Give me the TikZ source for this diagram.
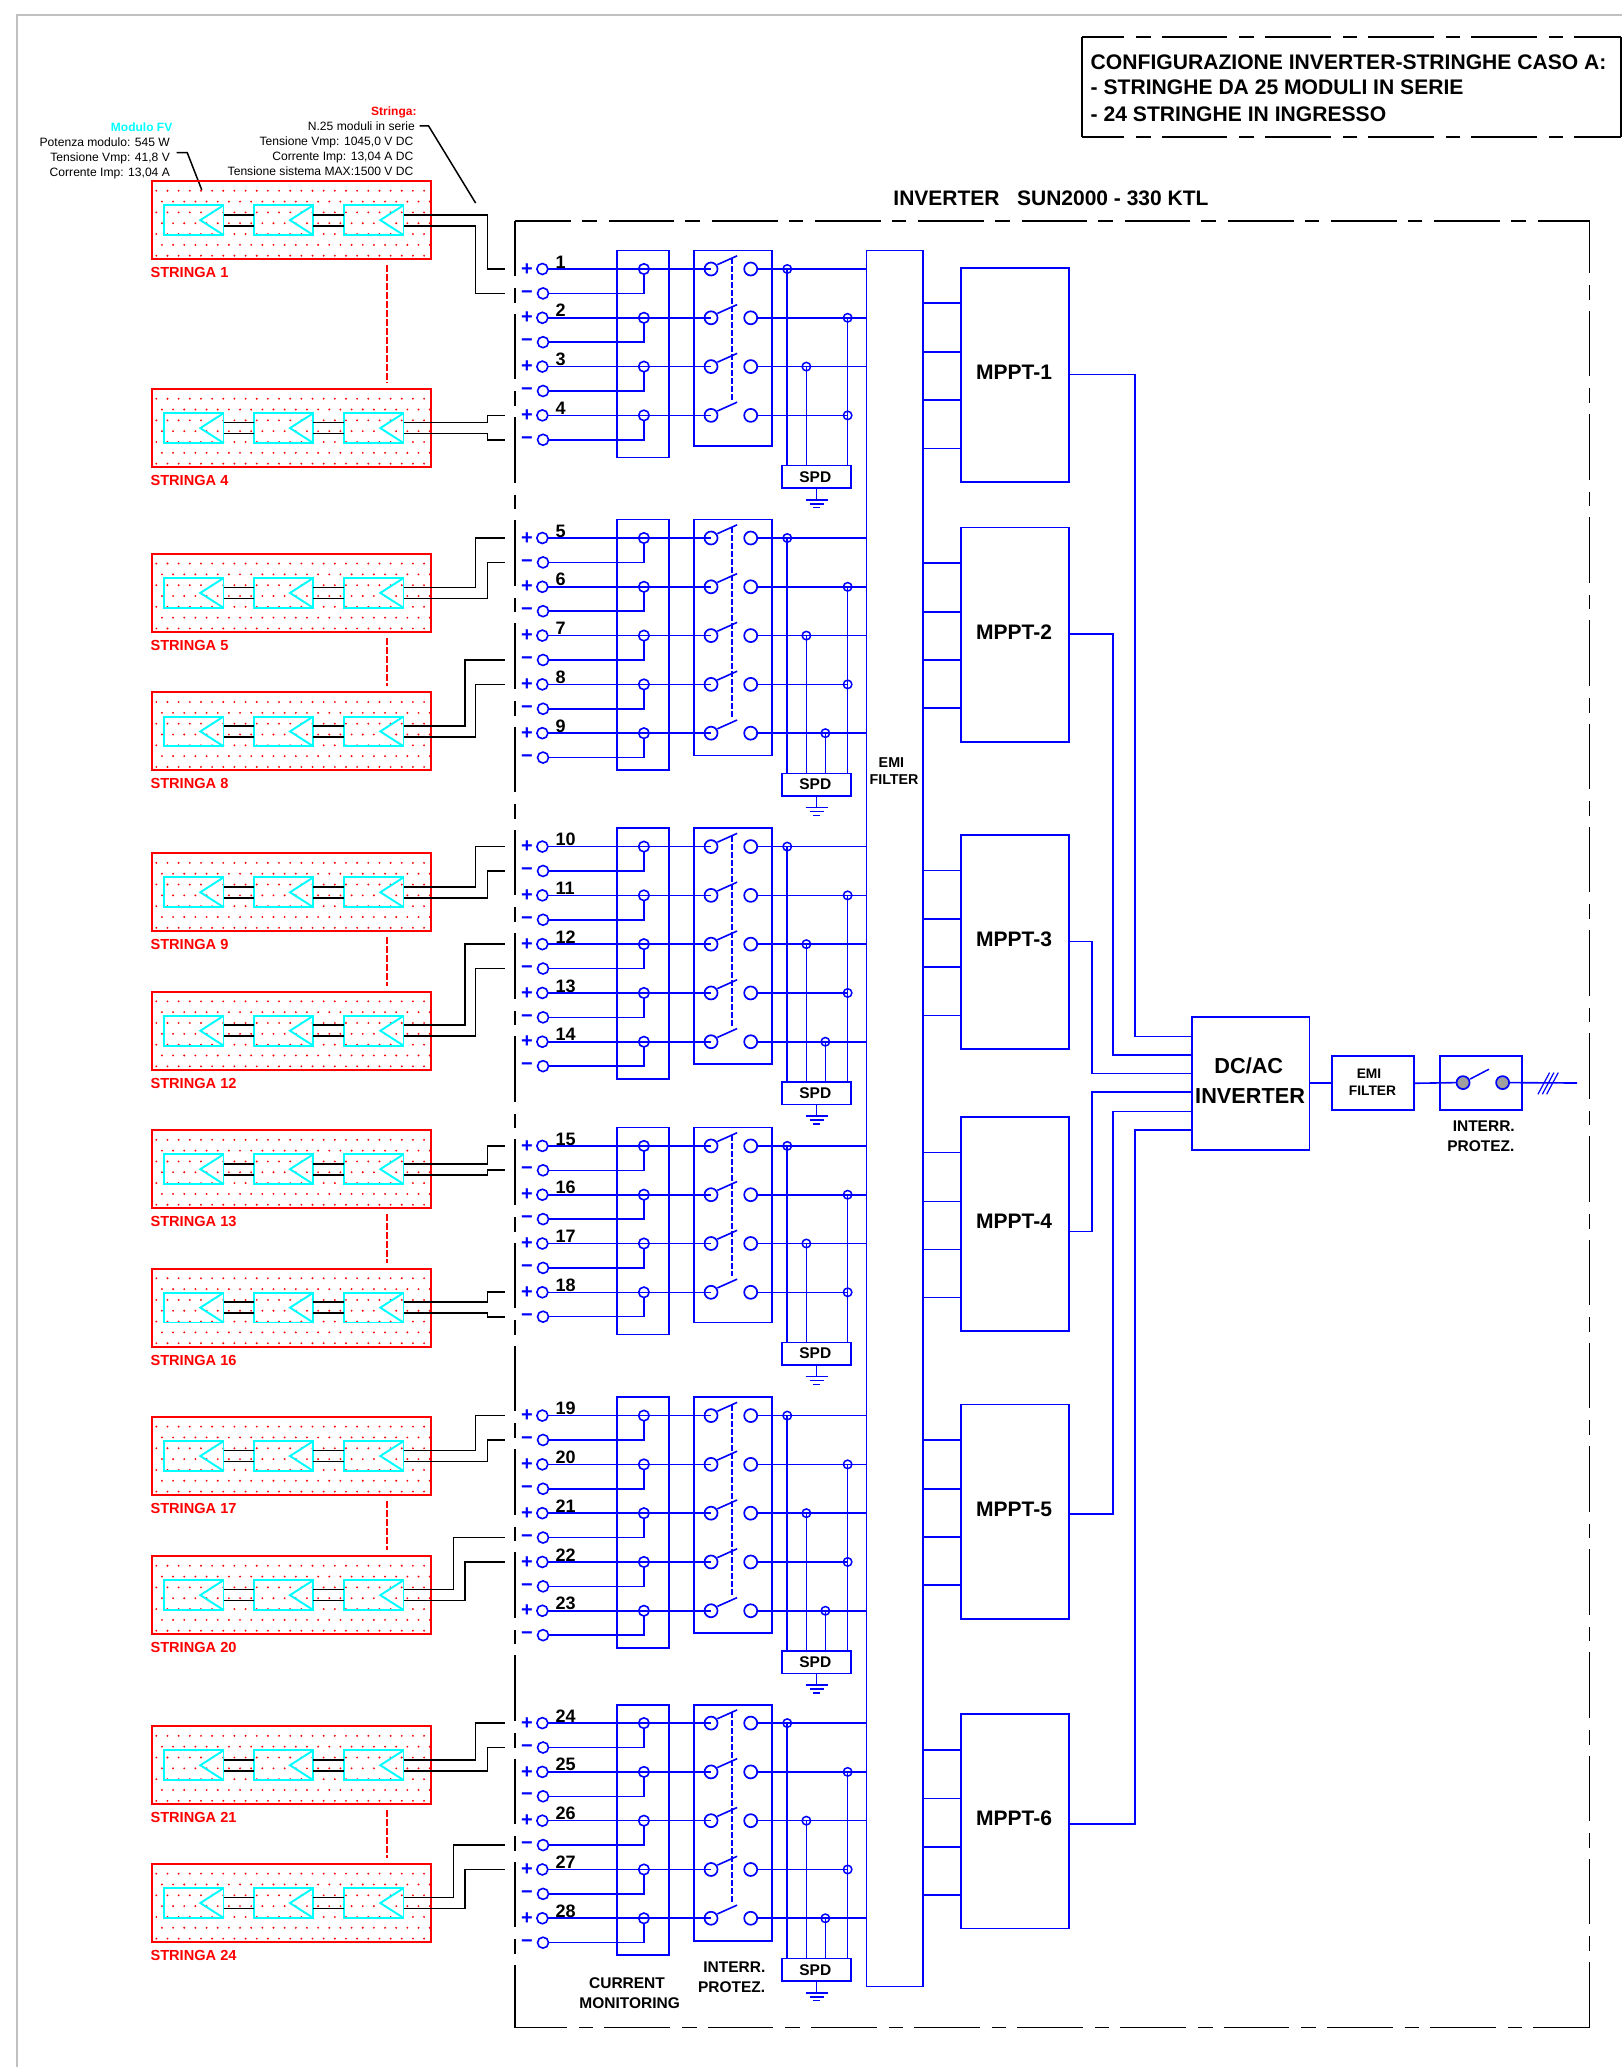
\documentclass[tikz,border=0pt]{standalone}
\usepackage{fontspec}
\setmainfont{Liberation Sans}
\definecolor{wblue}{RGB}{0,0,255}
\definecolor{wred}{RGB}{255,0,0}
\definecolor{wcyan}{RGB}{0,255,255}
\definecolor{wgray}{RGB}{192,192,192}
\tikzset{
  wire/.style={draw=wblue,line width=1.6pt,line join=miter},
  bk/.style={draw=black,line width=1.7pt},
  leader/.style={draw=black,line width=1.5pt},
  box/.style={draw=wblue,line width=1.7pt,inner sep=0pt,outer sep=0pt,rectangle,align=center},
  rbox/.style={draw=wred,line width=2pt,inner sep=0pt,outer sep=0pt,rectangle},
  cbox/.style={draw=wcyan,line width=1.9pt,inner sep=0pt,outer sep=0pt,rectangle},
  term/.style={circle,draw=wblue,line width=1.6pt,minimum size=11pt,inner sep=0pt,outer sep=0pt},
  cmc/.style={circle,draw=wblue,line width=1.6pt,minimum size=10.5pt,inner sep=0pt,outer sep=0pt},
  swc/.style={circle,draw=wblue,line width=1.7pt,minimum size=13pt,inner sep=0pt,outer sep=0pt},
  tapc/.style={circle,draw=wblue,line width=1.5pt,minimum size=8.5pt,inner sep=0pt,outer sep=0pt},
  gryc/.style={circle,draw=wblue,fill=gray!75,line width=1.7pt,minimum size=13pt,inner sep=0pt,outer sep=0pt},
  sgn/.style={font=\fontsize{20}{20}\selectfont\bfseries,text=wblue,inner sep=0pt},
  tb/.style={font=\fontsize{#1}{#1}\selectfont\bfseries,inner sep=0pt,anchor=base},
  tn/.style={font=\fontsize{12.1}{12.1}\selectfont,inner sep=0pt,anchor=base east},
  fr/.style={draw=black,line width=1.8pt,dash pattern=on 65.7pt off 12pt on 14.5pt off 11pt,dash phase=#1pt},
  reddash/.style={draw=wred,line width=1.4pt,dash pattern=on 7pt off 2pt},
}
\newcommand{\bx}[7][]{\node[box,minimum width={((#4)-(#2))*1.3187pt},minimum height={((#5)-(#3))*1.3187pt},#1] (#6) at ({((#2)+(#4))/2},{((#3)+(#5))/2}) {#7};}
% group of inputs: id, top, rows, first number
\newcommand{\grp}[4]{%
  \pgfmathsetmacro\spdoff{#3==4?163:192.5}%
  \pgfmathsetmacro\cmh{#3==4?157:190}%
  \pgfmathsetmacro\swh{#3==4?148:179}%
  \bx{468}{#2}{507.3}{#2+\cmh}{#1cm}{}
  \bx{526.3}{#2}{585.2}{#2+\swh}{#1sw}{}
  \bx[tb=15.5,anchor=center]{593.2}{#2+\spdoff}{645.3}{#2+\spdoff+17}{#1spd}{\hspace*{-2.5pt}SPD}
  \draw[wire] (#1spd.south) -- ++(0,9) coordinate (#1g);
  \draw[wire] ([xshift=-11pt]#1g) -- ([xshift=11pt]#1g);
  \draw[wire] ([shift={(-5.3,3)}]#1g) -- ([shift={(5.3,3)}]#1g);
  \draw[wire] ([shift={(-2.8,6)}]#1g) -- ([shift={(2.8,6)}]#1g);
  \coordinate (#1la) at (555,#2+5.7);
  \coordinate (#1lb) at (555,#2+14+37*#3-37-12);
  \draw[wblue,line width=1.4pt,dash pattern=on 6pt off 2pt] (#1la) -- (#1lb);
  \foreach \i in {1,...,#3}{%
    \pgfmathsetmacro\yp{#2+14+37*(\i-1)}%
    \pgfmathsetmacro\ym{\yp+18.5}%
    \pgfmathtruncatemacro\nn{#4+\i-1}%
    \pgfmathsetmacro\tx{{597,642.8,611.5,642.8,625.9}[\i-1]}%
    \node[sgn] (#1sp\i) at (399.6,\yp+0.2) {+};
    \node[sgn] (#1sm\i) at (399.6,\ym+0.6) {−};
    \node[term] (#1tp\i) at (411.3,\yp) {};
    \node[term] (#1tm\i) at (411.8,\ym) {};
    \coordinate (#1lp\i) at (383,\yp);
    \coordinate (#1lm\i) at (383,\ym);
    \node[tb=18,anchor=base west] (#1n\i) at (421.2,\yp-0.7) {\nn};
    \node[cmc] (#1c\i) at (488.3,\yp) {};
    \node[swc] (#1sl\i) at (539.2,\yp) {};
    \node[swc] (#1sr\i) at (569.3,\yp) {};
    \node[tapc] (#1tap\i) at (\tx,\yp) {};
    \coordinate (#1e\i) at (657,\yp);
    \draw[wire] (#1tp\i.east) -- (#1sl\i.center);
    \draw[wire] (#1tm\i.east) -| (#1c\i.south);
    \draw[wire] ([shift={(4.8,-3.3)}]#1sl\i.center) -- ([shift={(19.8,-10)}]#1sl\i.center);
    \ifnum\i=4
      \draw[wire] (#1sr\i.east) -- (#1tap\i.center);
    \else
      \draw[wire] (#1sr\i.east) -- (#1e\i);
    \fi
    \draw[wire] (#1tap\i.center) -- (#1tap\i.center |- #1spd.north);
  }%
}
% string box: id, top, label
\newcommand{\stringa}[3]{%
  \bx[rbox]{115}{#2}{327}{#2+59.1}{#1}{}
  \fill[wred] foreach \j in {0,...,6}{ foreach \k in {0,...,24}{
     ({115+3.56+(mod(\j,2)*4.25)+8.46*\k},{#2+7.36+8.21*\j}) circle[radius=1.05pt] } };
  \bx[cbox]{124.6}{#2+18.4}{169.5}{#2+40.9}{#1a}{}
  \bx[cbox]{192.6}{#2+18.4}{237.5}{#2+40.9}{#1b}{}
  \bx[cbox]{261.1}{#2+18.4}{306}{#2+40.9}{#1c}{}
  \foreach \m in {a,b,c}{%
    \draw[wcyan,line width=1.9pt] (#1\m.north east) -- ([xshift=-23.2pt]#1\m.east) -- (#1\m.south east);
  }
  \draw[bk] ([yshift=5.5pt]#1a.east) -- ([yshift=5.5pt]#1b.west);
  \draw[bk] ([yshift=-5.5pt]#1a.east) -- ([yshift=-5.5pt]#1b.west);
  \draw[bk] ([yshift=5.5pt]#1b.east) -- ([yshift=5.5pt]#1c.west);
  \draw[bk] ([yshift=-5.5pt]#1b.east) -- ([yshift=-5.5pt]#1c.west);
  \coordinate (#1o) at ([yshift=5.5pt]#1c.east);
  \coordinate (#1u) at ([yshift=-5.5pt]#1c.east);
  \node[tb=14.6,anchor=base west,text=wred] (#1t) at (114,#2+73.2) {#3};
}
\newcommand{\outw}[3]{\coordinate (xc) at (#2,0); \draw[bk] (#1) -- (#1 -| xc) -- (#3 -| xc) -- (#3);}
\newcommand{\rdash}[2]{\coordinate (xd) at (293.6,0); \draw[reddash] ([yshift=-6pt]#1.south -| xd) -- ([yshift=6pt]#2.north -| xd);}
\newcommand{\mppt}[3]{% id, top, number
  \bx{729}{#2}{810.5}{#2+162.5}{#1}{}
  \node[tb=21] (#1t) at (769,#2+84.7) {MPPT-#3};
  \foreach \o [count=\c] in {27,64,100.5,137}{%
    \coordinate (#1i\c) at (700,#2+\o);
    \draw[wire] (#1i\c) -- (#1i\c -| #1.west);
  }
}
\newcommand{\mout}[4]{\coordinate (xm) at (#3,0); \coordinate (#1o) at (810.5,#2); \coordinate (#1d) at (904,#4);
  \draw[wire] (#1o) -- (#1o -| xm) -- (#1d -| xm) -- (#1d);}
\begin{document}
\begin{tikzpicture}[x=1.3187pt,y=-1.3187pt]
\useasboundingbox (0,0) rectangle (1230,1567.5);
\fill[white] (0,0) rectangle (1230,1567.5);
% sheet edge
\coordinate (sa) at (12.8,1567.5); \coordinate (sb) at (12.8,11.4); \coordinate (sc) at (1230,11.4);
\draw[wgray,line width=2.5pt] (sa) -- (sb) -- (sc);

% title box
\coordinate (ta) at (820.6,28.3); \coordinate (tb) at (1229,28.3); \coordinate (tc) at (1229,104); \coordinate (td) at (820.6,104);
\draw[fr=23.7] (ta) -- (tb);
\draw[fr=23.7] (td) -- (tc);
\draw[black,line width=1.8pt] (ta) -- (td);
\draw[black,line width=1.8pt] (tb) -- (tc);
\node[tb=21.1,anchor=base west] (t1) at (827,53) {CONFIGURAZIONE INVERTER-STRINGHE CASO A:};
\node[tb=21.1,anchor=base west] (t2) at (827,72) {- STRINGHE DA 25 MODULI IN SERIE};
\node[tb=21.1,anchor=base west] (t3) at (827,92) {- 24 STRINGHE IN INGRESSO};

% inverter frame
\coordinate (fa) at (390.5,167.8); \coordinate (fb) at (1205.4,167.8); \coordinate (fc) at (1205.4,1537.6); \coordinate (fd) at (390.5,1537.6);
\draw[fr=13.7] (fb) -- (fa);
\draw[fr=10.7] (fa) -- (fd);
\draw[fr=13.7] (fd) -- (fc);
\draw[fr=13.7] (fb) -- (fc);
\node[tb=21] (invt) at (797,155.8) {INVERTER\ \ \ SUN2000 - 330 KTL};

% module notes
\node[tb=12,anchor=base east,text=wcyan] (n1) at (130.8,99.5) {Modulo FV};
\node[tn] (n2) at (129,111) {Potenza modulo: 545 W};
\node[tn] (n3) at (129,122.4) {Tensione Vmp: 41,8 V};
\node[tn] (n4) at (129,133.8) {Corrente Imp: 13,04 A};
\node[tb=12,anchor=base east,text=wred] (s1) at (316,87.6) {Stringa:};
\node[tn] (s2) at (314.7,99) {N.25 moduli in serie};
\node[tn] (s3) at (313.6,110.3) {Tensione Vmp: 1045,0 V DC};
\node[tn] (s4) at (313.6,121.6) {Corrente Imp: 13,04 A DC};
\node[tn] (s5) at (313.6,133) {Tensione sistema MAX:1500 V DC};
\coordinate (la) at (134,115.8); \coordinate (lb) at (142,115.8); \coordinate (lc) at (153,144);
\draw[leader] (la) -- (lb) -- (lc);
\coordinate (ld) at (318.2,95.5); \coordinate (le) at (325,95.5); \coordinate (lf) at (360.7,154);
\draw[leader] (ld) -- (le) -- (lf);

% input groups
\grp{A}{190}{4}{1}
\grp{B}{394}{5}{5}
\grp{C}{628}{5}{10}
\grp{D}{855}{4}{15}
\grp{E}{1059.5}{5}{19}
\grp{F}{1292.7}{5}{24}

% strings
\stringa{S1}{137.3}{STRINGA 1}
\stringa{S4}{295}{STRINGA 4}
\stringa{S5}{420}{STRINGA 5}
\stringa{S8}{525}{STRINGA 8}
\stringa{S9}{647}{STRINGA 9}
\stringa{S12}{752}{STRINGA 12}
\stringa{S13}{857}{STRINGA 13}
\stringa{S16}{962}{STRINGA 16}
\stringa{S17}{1074.5}{STRINGA 17}
\stringa{S20}{1180}{STRINGA 20}
\stringa{S21}{1309}{STRINGA 21}
\stringa{S24}{1413.5}{STRINGA 24}
\rdash{S1}{S4}
\rdash{S5}{S8}
\rdash{S9}{S12}
\rdash{S13}{S16}
\rdash{S17}{S20}
\rdash{S21}{S24}

% string outputs to terminals
\outw{S1o}{369.7}{Alp1}
\outw{S1u}{360.7}{Alm1}
\outw{S4o}{369.7}{Alp4}
\outw{S4u}{369.7}{Alm4}
\outw{S5o}{360.7}{Blp1}
\outw{S5u}{369.8}{Blm1}
\outw{S8o}{352.6}{Blm3}
\outw{S8u}{360.7}{Blp4}
\outw{S9o}{360.7}{Clp1}
\outw{S9u}{369.8}{Clm1}
\outw{S12o}{352.6}{Clp3}
\outw{S12u}{360.7}{Clm3}
\outw{S13o}{369.7}{Dlp1}
\outw{S13u}{369.7}{Dlm1}
\outw{S16o}{369.7}{Dlp4}
\outw{S16u}{369.7}{Dlm4}
\outw{S17o}{360.7}{Elp1}
\outw{S17u}{369.7}{Elm1}
\outw{S20o}{344}{Elm3}
\outw{S20u}{352.6}{Elp4}
\outw{S21o}{360.7}{Flp1}
\outw{S21u}{369.7}{Flm1}
\outw{S24o}{344}{Flm3}
\outw{S24u}{352.6}{Flp4}

% EMI column
\bx{657}{190}{700}{1506.5}{emi}{}
\node[tb=14.3] (emia) at (676,582) {EMI};
\node[tb=14.3] (emib) at (678,595) {FILTER};

% MPPTs
\mppt{M1}{203}{1}
\mppt{M2}{400}{2}
\mppt{M3}{633}{3}
\mppt{M4}{847}{4}
\mppt{M5}{1065}{5}
\mppt{M6}{1300}{6}

% DC/AC
\bx{904}{771}{993}{872}{dcac}{}
\node[tb=21.7] (dca) at (947,813.7) {DC/AC};
\node[tb=21.7] (dcb) at (948,836.8) {INVERTER};
\mout{M1}{284}{860.5}{786}
\mout{M2}{481}{844}{800}
\mout{M3}{714}{828}{814}
\mout{M4}{934}{828}{828}
\mout{M5}{1148}{844}{843}
\mout{M6}{1383}{860.5}{857}

% output chain
\bx{1010}{801}{1072.5}{842}{emis}{}
\node[tb=13.8] (ema) at (1038.2,817.7) {EMI};
\node[tb=13.8] (emc) at (1040.8,830.4) {FILTER};
\bx{1092}{801}{1154}{842}{swb}{}
\node[gryc] (gl) at (1109.5,821) {};
\node[gryc] (gr) at (1139.5,821) {};
\coordinate (oend) at (1196,821.3);
\draw[wire] (dcac.east) -- (emis.west);
\draw[wire] (emis.east) -- (gl.west);
\draw[wire] (gr.east) -- (oend);
\draw[wire,line width=1.5pt] ([shift={(5.3,-2.7)}]gl.center) -- ([shift={(19.7,-10.2)}]gl.center);
\foreach \s in {0,3.3,6.6}{
  \coordinate (ha) at (1166.3+\s,829.8); \coordinate (hb) at (1175.1+\s,813.4);
  \draw[wblue,line width=1.2pt] (ha) -- (hb);
}
\node[tb=15.5] (ipa) at (1125.2,857.8) {INTERR.};
\node[tb=15.5] (ipb) at (1123,873) {PROTEZ.};
\node[tb=15.5] (cma) at (475.5,1507.7) {CURRENT};
\node[tb=15.5] (cmb) at (477.5,1523) {MONITORING};
\node[tb=15.5] (ipc) at (556.9,1495.7) {INTERR.};
\node[tb=15.5] (ipd) at (554.8,1510.7) {PROTEZ.};
\end{tikzpicture}
\end{document}
